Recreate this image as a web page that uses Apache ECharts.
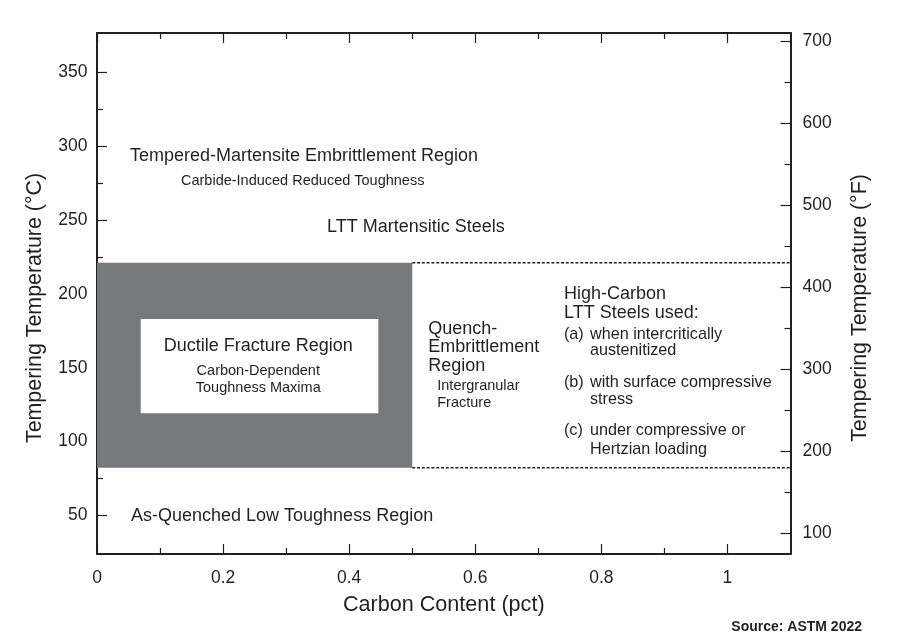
<!DOCTYPE html>
<html>
<head>
<meta charset="utf-8">
<script src="https://cdn.jsdelivr.net/npm/echarts@6/dist/echarts.min.js"></script>
<style>
html,body{margin:0;padding:0;background:#fff;}
#chart{width:902px;height:635px;}
</style>
</head>
<body>
<div id="chart"></div>
<script>
// ---- data ----
const carbonRange = [0, 1.1];              // carbon content (pct)
const tempRangeC = [23.8, 376.7];          // tempering temperature (°C)
const xTicks = [0, 0.2, 0.4, 0.6, 0.8, 1];
const xMinorTicks = [0.1, 0.3, 0.5, 0.7, 0.9];
const cTicks = [50, 100, 150, 200, 250, 300, 350];
const cMinorTicks = [75, 125, 175, 225, 275, 325];
const fTicks = [100, 200, 300, 400, 500, 600, 700];
const fMinorTicks = [150, 250, 350, 450, 550, 650];

// region boxes: [carbonMin, tempMinC, carbonMax, tempMaxC]
const ductileRegion = [0, 82.2, 0.5, 221.1];
const ductileLabelBox = [0.0693, 119.1, 0.4462, 183.0];
// dashed boundaries of the high-carbon LTT region (°C), from 0.5 to 1.1 pct
const boundaryCarbon = [0.5, 1.1];
const boundaryTemps = [221.1, 82.2];

// annotations: [carbon, tempC, text]
const regionTitles = [
  [0.0523, 293.4, 'Tempered-Martensite Embrittlement Region'],
  [0.3648, 245.3, 'LTT Martensitic Steels'],
  [0.5255, 176.0, 'Quench-'],
  [0.5255, 164.0, 'Embrittlement'],
  [0.5255, 151.1, 'Region'],
  [0.7407, 199.7, 'High-Carbon'],
  [0.7407, 186.8, 'LTT Steels used:'],
  [0.0539, 49.5, 'As-Quenched Low Toughness Region']
];
const centeredTitles = [
  [0.2558, 164.7, 'Ductile Fracture Region']
];
const regionNotes = [
  [0.1332, 276.4, 'Carbide-Induced Reduced Toughness'],
  [0.5397, 137.6, 'Intergranular'],
  [0.5397, 126.3, 'Fracture']
];
const centeredNotes = [
  [0.2558, 147.7, 'Carbon-Dependent'],
  [0.2558, 136.4, 'Toughness Maxima']
];
const listMarkers = [
  [0.7407, 172.6, '(a)'],
  [0.7407, 139.8, '(b)'],
  [0.7407, 107.1, '(c)']
];
const listTexts = [
  [0.7819, 172.6, 'when intercritically'],
  [0.7819, 161.3, 'austenitized'],
  [0.7819, 139.8, 'with surface compressive'],
  [0.7819, 128.1, 'stress'],
  [0.7819, 107.1, 'under compressive or'],
  [0.7819, 94.7, 'Hertzian loading']
];

// ---- rendering ----
const FONT = '"Liberation Sans", Arial, Helvetica, sans-serif';
const INK = '#231f20';
const toF = c => c * 1.8 + 32;

function textSeries(labels, size, align, weight) {
  return {
    type: 'custom',
    xAxisIndex: 0, yAxisIndex: 0,
    silent: true,
    z: 10,
    data: labels.map(l => [l[0], l[1]]),
    renderItem: function (params, api) {
      const p = api.coord([api.value(0), api.value(1)]);
      return {
        type: 'text',
        x: p[0], y: p[1],
        style: {
          text: labels[params.dataIndex][2],
          fill: INK,
          font: (weight || 'normal') + ' ' + size + 'px ' + FONT,
          align: align,
          verticalAlign: 'middle'
        }
      };
    }
  };
}

function boxSeries(boxes, colors, z) {
  return {
    type: 'custom',
    xAxisIndex: 0, yAxisIndex: 0,
    silent: true,
    z: z,
    data: boxes,
    renderItem: function (params, api) {
      const p0 = api.coord([api.value(0), api.value(1)]);
      const p1 = api.coord([api.value(2), api.value(3)]);
      return {
        type: 'rect',
        shape: { x: p0[0], y: p1[1], width: p1[0] - p0[0], height: p0[1] - p1[1] },
        style: { fill: colors[params.dataIndex] }
      };
    }
  };
}

function ticks(values, len) {
  return { show: true, inside: true, length: len, customValues: values, lineStyle: { color: INK, width: 1.2 } };
}

function tickAxis(base) {
  return Object.assign({
    type: 'value',
    splitLine: { show: false },
    axisLine: { show: false, onZero: false },
    axisLabel: { show: false }
  }, base);
}

const chart = echarts.init(document.getElementById('chart'), null, { renderer: 'canvas' });

const axisLineStyle = { show: true, onZero: false, lineStyle: { color: INK, width: 2 } };
const labelStyle = { color: INK, fontSize: 17.5, fontFamily: FONT };

const option = {
  animation: false,
  backgroundColor: '#ffffff',
  grid: { left: 97, right: 111.5, top: 33, bottom: 81, containLabel: false, outerBoundsMode: 'none' },
  xAxis: [
    tickAxis({
      position: 'bottom', min: carbonRange[0], max: carbonRange[1],
      axisLine: axisLineStyle,
      axisTick: ticks(xTicks, 10),
      axisLabel: Object.assign({ show: true, margin: 15, customValues: xTicks }, labelStyle),
      name: 'Carbon Content (pct)', nameLocation: 'middle', nameGap: 40.5,
      nameTextStyle: { color: INK, fontSize: 21.6, fontFamily: FONT }
    }),
    tickAxis({
      position: 'bottom', min: carbonRange[0], max: carbonRange[1],
      axisTick: ticks(xMinorTicks, 6)
    }),
    tickAxis({
      position: 'top', min: carbonRange[0], max: carbonRange[1],
      axisLine: axisLineStyle,
      axisTick: ticks(xTicks, 10)
    }),
    tickAxis({
      position: 'top', min: carbonRange[0], max: carbonRange[1],
      axisTick: ticks(xMinorTicks, 6)
    })
  ],
  yAxis: [
    tickAxis({
      position: 'left', min: tempRangeC[0], max: tempRangeC[1],
      axisLine: axisLineStyle,
      axisTick: ticks(cTicks, 10),
      axisLabel: Object.assign({ show: true, margin: 9.5, customValues: cTicks }, labelStyle)
    }),
    tickAxis({
      position: 'left', min: tempRangeC[0], max: tempRangeC[1],
      axisTick: ticks(cMinorTicks, 6)
    }),
    tickAxis({
      position: 'right', min: toF(tempRangeC[0]), max: toF(tempRangeC[1]),
      axisLine: axisLineStyle,
      axisTick: ticks(fTicks, 10),
      axisLabel: Object.assign({ show: true, margin: 12, customValues: fTicks }, labelStyle)
    }),
    tickAxis({
      position: 'right', min: toF(tempRangeC[0]), max: toF(tempRangeC[1]),
      axisTick: ticks(fMinorTicks, 6)
    })
  ],
  series: [
    boxSeries([ductileRegion, ductileLabelBox], ['#77787b', '#ffffff'], 2),
    ...boundaryTemps.map(t => ({
      type: 'line',
      xAxisIndex: 0, yAxisIndex: 0,
      silent: true,
      symbol: 'none',
      z: 3,
      data: boundaryCarbon.map(c => [c, t]),
      lineStyle: { color: INK, width: 1.5, type: [3, 1.8] }
    })),
    textSeries(regionTitles, 18, 'left'),
    textSeries(centeredTitles, 18, 'center'),
    textSeries(regionNotes, 14.5, 'left'),
    textSeries(centeredNotes, 14.5, 'center'),
    textSeries(listMarkers, 16.2, 'left'),
    textSeries(listTexts, 16.2, 'left')
  ],
  graphic: [
    {
      type: 'text', x: 35, y: 308, rotation: Math.PI / 2,
      style: { text: 'Tempering Temperature (°C)', fill: INK, font: '21.4px ' + FONT, align: 'center', verticalAlign: 'middle' }
    },
    {
      type: 'text', x: 860, y: 308, rotation: Math.PI / 2,
      style: { text: 'Tempering Temperature (°F)', fill: INK, font: '21.4px ' + FONT, align: 'center', verticalAlign: 'middle' }
    },
    {
      type: 'text', x: 862, y: 627,
      style: { text: 'Source: ASTM 2022', fill: INK, font: 'bold 14px ' + FONT, align: 'right', verticalAlign: 'middle' }
    }
  ]
};

chart.setOption(option);
</script>
</body>
</html>
